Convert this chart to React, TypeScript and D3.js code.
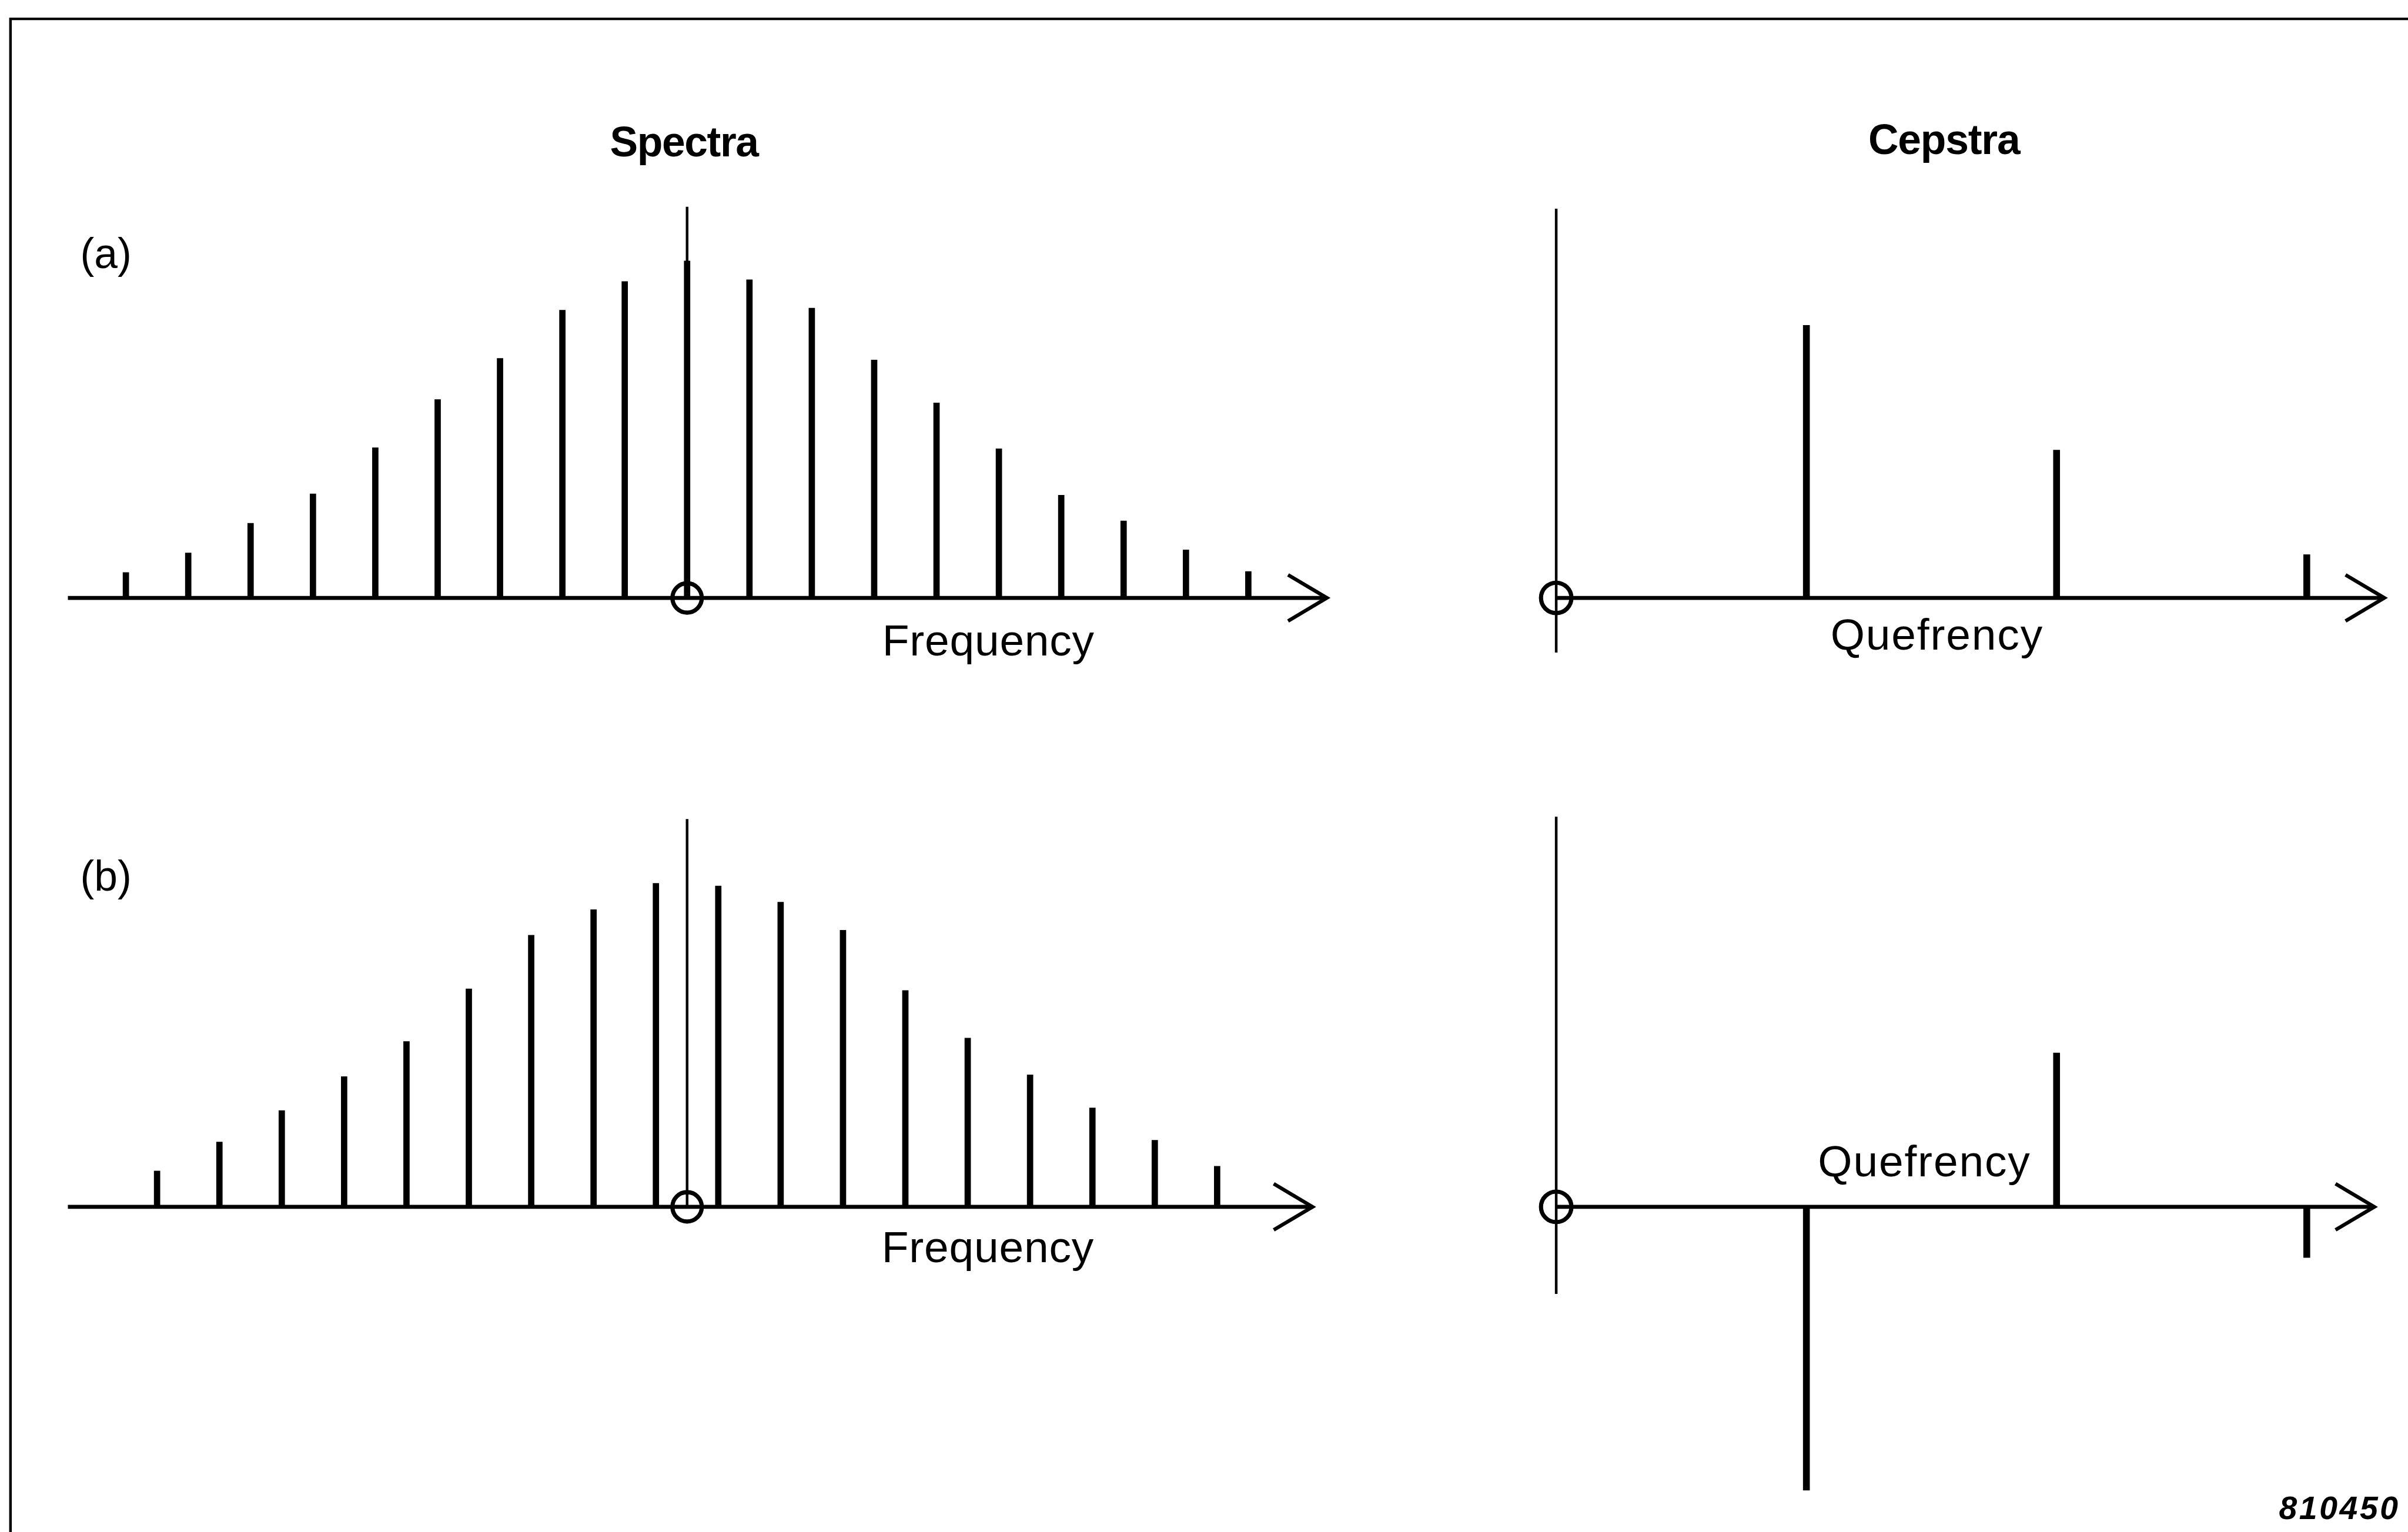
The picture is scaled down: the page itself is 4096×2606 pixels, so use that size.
import React from "react";
import * as d3 from "d3";

// Line spectra: harmonic index and relative amplitude (peak = 1)
const specAFreq = [-9, -8, -7, -6, -5, -4, -3, -2, -1, 0, 1, 2, 3, 4, 5, 6, 7, 8, 9];
const specAAmp = [0.076, 0.134, 0.222, 0.309, 0.446, 0.589, 0.711, 0.854, 0.939, 1.0, 0.944, 0.86, 0.706, 0.579, 0.443, 0.305, 0.229, 0.143, 0.079];
const specBFreq = [-8.5, -7.5, -6.5, -5.5, -4.5, -3.5, -2.5, -1.5, -0.5, 0.5, 1.5, 2.5, 3.5, 4.5, 5.5, 6.5, 7.5, 8.5];
const specBAmp = [0.107, 0.193, 0.286, 0.387, 0.491, 0.647, 0.806, 0.882, 0.96, 0.952, 0.904, 0.821, 0.642, 0.501, 0.392, 0.294, 0.198, 0.121];

// Cepstra: rahmonic index and relative amplitude
const cepQuef = [1, 2, 3];
const cepAAmp = [0.809, 0.439, 0.129];
const cepBAmp = [-0.841, 0.457, -0.151];

const panelLabels = ["(a)", "(b)"];
const columnTitles = ["Spectra", "Cepstra"];
const axisLabels = ["Frequency", "Quefrency"];
const figureCode = "810450";

// drawing is laid out on a 4591 x 2921 canvas and scaled to the window
const W = 4591;
const H = 2921;
const K = 4096 / 4591;

const specX = d3.scaleLinear().domain([-9, 9]).range([240, 2380]);
const cepX = d3.scaleLinear().domain([0, 3]).range([2967, 4398]);

const FONT = "'Liberation Sans', Arial, Helvetica, sans-serif";

type Row = {
  label: string;
  labelY: number;
  base: number;
  freq: number[];
  amp: number[];
  specAxis: [number, number];
  specTop: number;
  cep: number[];
  cepAxisEnd: number;
  cepTop: number;
  cepBottom: number;
  freqLabel: [number, number];
  quefLabel: [number, number];
};

const rows: Row[] = [
  {
    label: panelLabels[0],
    labelY: 511,
    base: 1140,
    freq: specAFreq,
    amp: specAAmp,
    specAxis: [-9.93, 10.26],
    specTop: 1.16,
    cep: cepAAmp,
    cepAxisEnd: 3.31,
    cepTop: 1.154,
    cepBottom: -0.162,
    freqLabel: [1884, 1250],
    quefLabel: [3692, 1239],
  },
  {
    label: panelLabels[1],
    labelY: 1698,
    base: 2301,
    freq: specBFreq,
    amp: specBAmp,
    specAxis: [-9.93, 10.03],
    specTop: 1.15,
    cep: cepBAmp,
    cepAxisEnd: 3.27,
    cepTop: 1.157,
    cepBottom: -0.258,
    freqLabel: [1883, 2407],
    quefLabel: [3668, 2243],
  },
];

function chevron(xTip: number, y: number) {
  const p = d3.path();
  p.moveTo(xTip - 74, y - 44);
  p.lineTo(xTip, y);
  p.lineTo(xTip - 74, y + 44);
  return p.toString();
}

function RowGroup({ r }: { r: Row }) {
  const y = d3.scaleLinear().domain([0, 1]).range([r.base, r.base - 643]);
  const specTip = specX(r.specAxis[1]);
  const cepTip = cepX(r.cepAxisEnd);
  return (
    <g>
      <text x={153} y={r.labelY} fontFamily={FONT} fontSize={80} fill="#000">
        {r.label}
      </text>

      {/* spectrum */}
      <line x1={specX(0)} x2={specX(0)} y1={y(r.specTop)} y2={y(0)} stroke="#000" strokeWidth={5} />
      <line x1={specX(r.specAxis[0])} x2={specTip} y1={y(0)} y2={y(0)} stroke="#000" strokeWidth={7.5} />
      <path d={chevron(specTip, y(0))} fill="none" stroke="#000" strokeWidth={7} strokeLinejoin="miter" />
      {r.freq.map((f, i) => (
        <line key={i} x1={specX(f)} x2={specX(f)} y1={y(0)} y2={y(r.amp[i])} stroke="#000" strokeWidth={12} />
      ))}
      <circle cx={specX(0)} cy={y(0)} r={28} fill="none" stroke="#000" strokeWidth={8} />
      <text
        x={r.freqLabel[0]}
        y={r.freqLabel[1]}
        textAnchor="middle"
        fontFamily={FONT}
        fontSize={84}
        textLength={404}
        fill="#000"
      >
        {axisLabels[0]}
      </text>

      {/* cepstrum */}
      <line x1={cepX(0)} x2={cepX(0)} y1={y(r.cepTop)} y2={y(r.cepBottom)} stroke="#000" strokeWidth={5} />
      <line x1={cepX(0)} x2={cepTip} y1={y(0)} y2={y(0)} stroke="#000" strokeWidth={7.5} />
      <path d={chevron(cepTip, y(0))} fill="none" stroke="#000" strokeWidth={7} strokeLinejoin="miter" />
      {cepQuef.map((q, i) => (
        <line key={i} x1={cepX(q)} x2={cepX(q)} y1={y(0)} y2={y(r.cep[i])} stroke="#000" strokeWidth={13} />
      ))}
      <circle cx={cepX(0)} cy={y(0)} r={29} fill="none" stroke="#000" strokeWidth={8} />
      <text
        x={r.quefLabel[0]}
        y={r.quefLabel[1]}
        textAnchor="middle"
        fontFamily={FONT}
        fontSize={84}
        textLength={404}
        fill="#000"
      >
        {axisLabels[1]}
      </text>
    </g>
  );
}

export default function App() {
  return (
    <svg
      width={4096}
      height={2606}
      viewBox={`0 0 ${4096} ${2606}`}
      style={{ position: "fixed", left: 0, top: 0, background: "#fff" }}
    >
      <rect x={0} y={0} width={4096} height={2606} fill="#fff" />
      <g transform={`scale(${K})`}>
        {/* frame: top and left rules */}
        <line x1={18} x2={W} y1={36} y2={36} stroke="#000" strokeWidth={5} />
        <line x1={20} x2={20} y1={34} y2={H} stroke="#000" strokeWidth={5} />

        <text x={1305} y={298} textAnchor="middle" fontFamily={FONT} fontWeight="bold" fontSize={80} textLength={284} fill="#000">
          {columnTitles[0]}
        </text>
        <text x={3707} y={294} textAnchor="middle" fontFamily={FONT} fontWeight="bold" fontSize={80} textLength={290} fill="#000">
          {columnTitles[1]}
        </text>

        {rows.map((r, i) => (
          <RowGroup key={i} r={r} />
        ))}

        <text
          x={4345}
          y={2896}
          fontFamily={FONT}
          fontWeight="bold"
          fontStyle="italic"
          fontSize={62}
          textLength={227}
          fill="#000"
        >
          {figureCode}
        </text>
      </g>
    </svg>
  );
}
